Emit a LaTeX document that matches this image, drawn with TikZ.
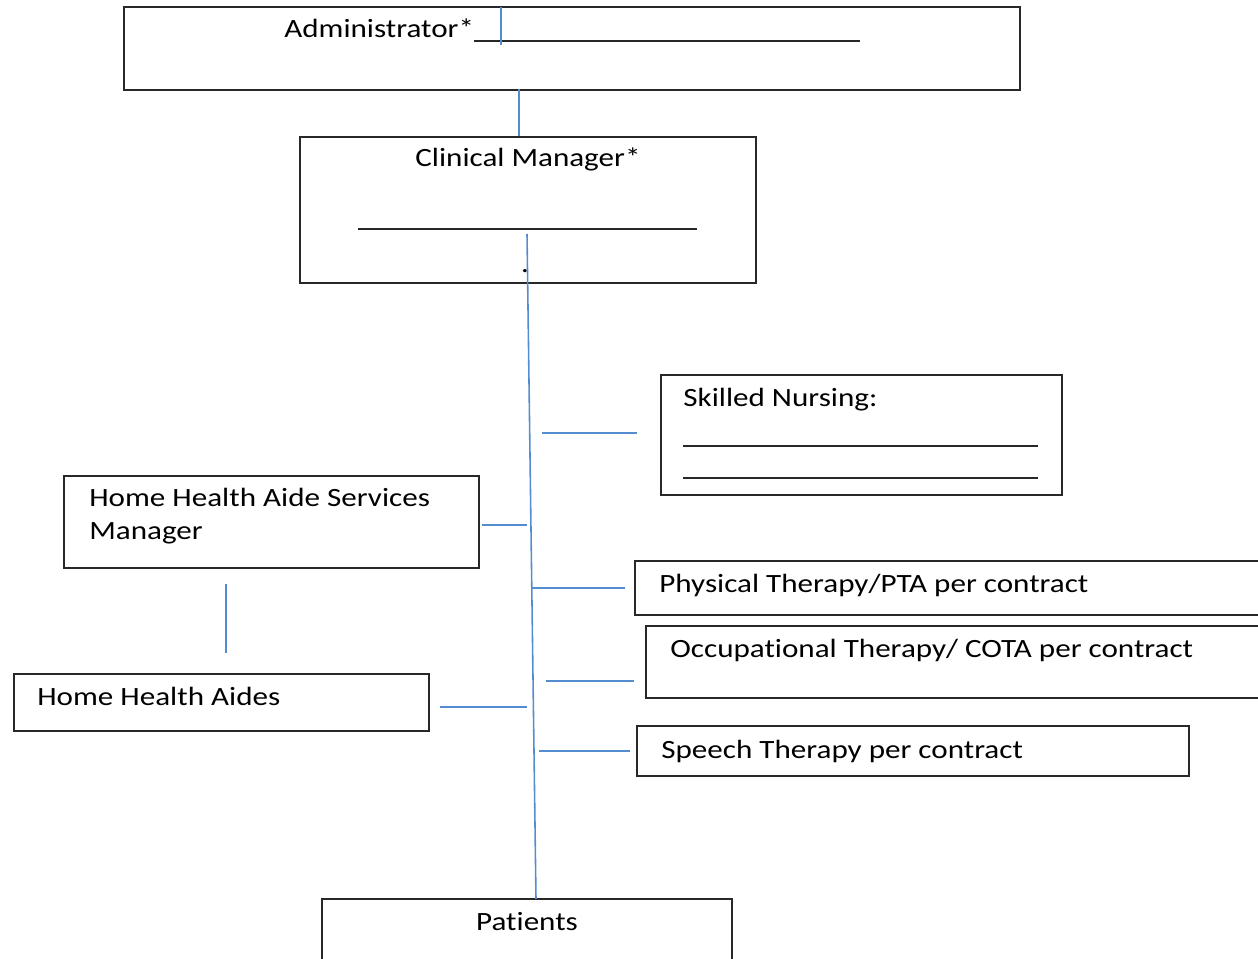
\documentclass[tikz,border=0pt]{standalone}
\usepackage{fontspec}
\setmainfont{Carlito}[FakeStretch=1.18, Ligatures=CommonOff]
\usepackage{tikz}
\usetikzlibrary{positioning}

\definecolor{linkblue}{RGB}{84,141,207}
\definecolor{boxline}{RGB}{40,40,40}

\tikzset{
  box/.style={draw=boxline, rectangle, line width=0.8pt, inner sep=0pt},
  link/.style={draw=linkblue, line width=0.9pt},
  lbl/.style={inner sep=0pt, anchor=base west, font=\fontsize{15}{18.8}\selectfont},
  blank/.style={draw=boxline, line width=0.6pt}
}

\begin{document}
\begin{tikzpicture}[x=0.02cm, y=-0.02cm]
    \useasboundingbox (0,0) rectangle (1258,959);
    \clip (0,0) rectangle (1258,959);

    % Top boxes
    \node[box, minimum width=17.92cm, minimum height=1.66cm] (admin) at (572,48.5) {};
    \node[box, minimum width=9.12cm, minimum height=2.92cm] (cm) at (528,210) {};
    \node[lbl] (admintxt) at (284,38) {Administrator*};
    \node[lbl] (cmtxt) at (415,167) {Clinical Manager*};
    \node[lbl, anchor=base] (cmdot) at (525,273) {.};
    \draw[blank] (474,41) -- (860,41);
    \draw[blank] (358,229) -- (697,229);

    % Services on the right
    \node[box, minimum width=8.02cm, minimum height=2.4cm] (sn) at (861.5,435) {};
    \node[lbl] (sntxt) at (683,407) {Skilled Nursing:};
    \draw[blank] (683,446) -- (1038,446);
    \draw[blank] (683,478) -- (1038,478);

    \node[box, minimum width=13.3cm, minimum height=1.08cm] (pt) at (967.5,588) {};
    \node[lbl] (pttxt) at (659,592) {Physical Therapy/PTA per contract};
    \node[box, minimum width=13.08cm, minimum height=1.44cm] (ot) at (973,662) {};
    \node[lbl] (ottxt) at (670,657) {Occupational Therapy/ COTA per contract};
    \node[box, minimum width=11.04cm, minimum height=1.0cm] (st) at (913,751) {};
    \node[lbl] (sttxt) at (661,758) {Speech Therapy per contract};

    % Aides on the left
    \node[box, minimum width=8.3cm, minimum height=1.84cm] (hsm) at (271.5,522) {};
    \node[lbl, align=left] (hsmtxt) at (89,540) {Home Health Aide Services\\Manager};
    \node[box, minimum width=8.3cm, minimum height=1.14cm] (hha) at (221.5,702.5) {};
    \node[lbl] (hhatxt) at (37,705) {Home Health Aides};

    % Patients
    \node[box, minimum width=8.2cm, minimum height=2.02cm] (pat) at (527,949.5) {};
    \node[lbl, anchor=base] (pattxt) at (527,930) {Patients};

    % Connector points
    \coordinate (atick) at (501,7);
    \coordinate (adown) at (519,89);
    \coordinate (trunktop) at (527,234);
    \coordinate (trunkbot) at (536,899);
    \coordinate (snL) at (542,433);
    \coordinate (hsL) at (527,525);
    \coordinate (ptL) at (532,588);
    \coordinate (otL) at (546,681);
    \coordinate (haL) at (527,707);
    \coordinate (stL) at (539,751);
    \coordinate (vx) at (226,0);

    % Connectors
    \draw[link] (atick) -- ++(0,38);
    \draw[link] (adown) -- (adown |- cm.north);
    \draw[link] (trunktop) -- (trunkbot);
    \draw[link, shorten >=0.46cm] (snL) -- (snL -| sn.west);
    \draw[link, shorten >=0.04cm] (hsL) -- (hsL -| hsm.east);
    \draw[link, shorten >=0.18cm] (ptL) -- (ptL -| pt.west);
    \draw[link, shorten >=0.22cm] (otL) -- (otL -| ot.west);
    \draw[link, shorten >=0.2cm] (haL) -- (haL -| hha.east);
    \draw[link, shorten >=0.12cm] (stL) -- (stL -| st.west);
    \draw[link, shorten <=0.3cm, shorten >=0.4cm] (hsm.south -| vx) -- (hha.north -| vx);
\end{tikzpicture}
\end{document}
